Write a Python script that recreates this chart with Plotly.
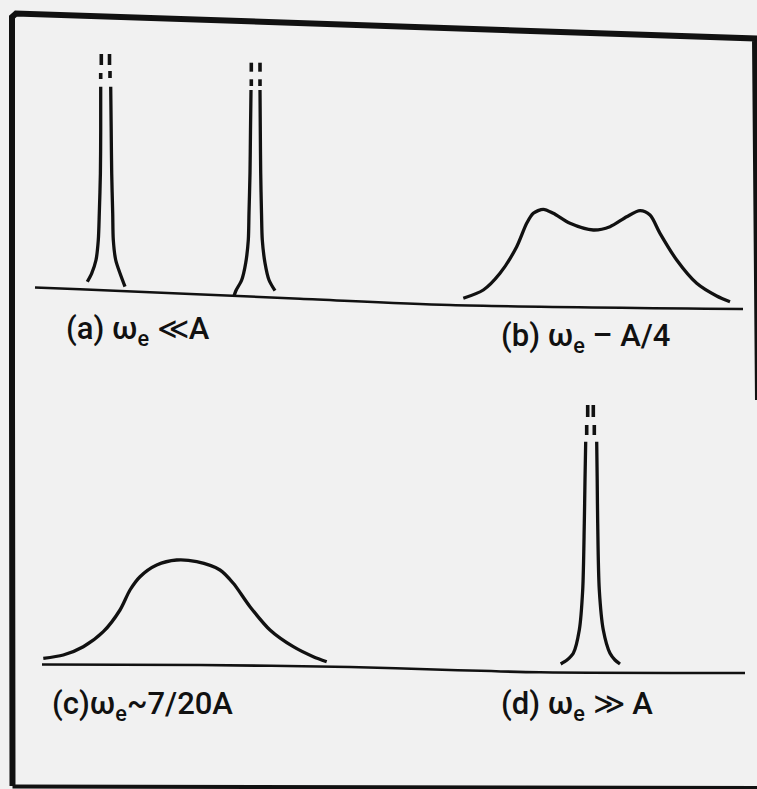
import plotly.graph_objects as go

# Canvas coordinates: x to the right, y downward (axis reversed)
W, H = 757, 789

# ---- panel (a): two narrow lines --------------------------------------
a1_left_x = [100.7, 100.7, 100.4, 99.3, 98.3, 96.0, 91.7, 87.3]
a1_left_y = [86.7, 130.0, 173.3, 213.3, 240.0, 260.0, 273.3, 281.7]
a1_right_x = [110.7, 111.2, 111.7, 112.7, 113.3, 115.7, 120.0, 125.0]
a1_right_y = [86.7, 130.0, 173.3, 213.3, 240.0, 260.0, 273.3, 286.7]

a2_left_x = [251.0, 250.5, 250.0, 249.0, 248.3, 245.7, 241.7, 236.0, 234.0]
a2_left_y = [90.0, 130.0, 173.0, 213.0, 240.0, 263.0, 280.0, 290.5, 296.0]
a2_right_x = [260.0, 260.3, 260.7, 261.5, 262.3, 265.0, 269.0, 275.0]
a2_right_y = [90.0, 130.0, 173.0, 213.0, 240.0, 263.0, 280.0, 290.7]

# broken-off tops (off-scale intensity)
a_dash_x = [101.3, 101.3, None, 100.7, 100.7, None, 109.5, 109.5, None, 110.0, 110.0, None,
            251.3, 251.3, None, 251.3, 251.3, None, 260.0, 260.0, None, 260.0, 260.0]
a_dash_y = [54.0, 65.0, None, 73.0, 79.0, None, 54.0, 65.0, None, 71.0, 78.0, None,
            62.7, 71.7, None, 79.3, 86.0, None, 62.7, 71.7, None, 79.3, 86.0]

# ---- panel (b): split doublet -----------------------------------------
b_x = [463.3, 483.3, 500.0, 516.7, 526.7, 533.3, 543.3, 553.3, 570.0, 593.3,
       610.0, 626.7, 640.0, 650.0, 660.0, 676.7, 696.7, 716.7, 730.0]
b_y = [298.3, 290.0, 273.3, 246.7, 223.3, 213.3, 209.3, 213.3, 223.3, 230.0,
       226.7, 216.7, 210.7, 215.0, 233.3, 260.0, 283.3, 296.0, 301.7]

# ---- panel (c): single broad band -------------------------------------
c_x = [43.3, 63.3, 83.3, 103.3, 120.0, 130.0, 140.0, 156.7, 176.7, 196.7,
       220.0, 233.3, 250.0, 270.0, 293.3, 313.3, 326.7]
c_y = [658.3, 655.0, 646.7, 631.7, 610.0, 590.0, 576.7, 565.0, 560.0, 561.7,
       570.0, 583.3, 606.7, 630.0, 646.7, 656.7, 661.7]

# ---- panel (d): motionally narrowed single line -----------------------
d_left_x = [585.7, 585.0, 584.3, 582.7, 579.3, 573.3, 567.0, 560.7]
d_left_y = [441.7, 480.0, 523.3, 590.0, 630.0, 653.3, 660.0, 664.0]
d_right_x = [596.7, 597.2, 597.7, 599.3, 603.3, 610.0, 615.0, 620.0]
d_right_y = [441.7, 480.0, 523.3, 590.0, 630.0, 653.3, 660.0, 664.0]
d_dash_x = [587.7, 587.7, None, 586.7, 586.7, None, 593.3, 593.3, None, 594.3, 594.3]
d_dash_y = [405.0, 417.0, None, 425.0, 435.0, None, 405.0, 417.0, None, 425.0, 435.0]

# ---- baselines ---------------------------------------------------------
base_top_x = [35.0, 80.0, 300.0, 450.0, 743.0]
base_top_y = [287.5, 289.3, 298.7, 305.0, 309.0]
base_bot_x = [42.0, 200.0, 350.0, 450.0, 540.0, 745.0]
base_bot_y = [664.5, 665.0, 667.0, 670.0, 672.3, 673.0]

# ---- frame -------------------------------------------------------------
frame_x = [758.0, 755.0, 16.0, 12.0, 12.0, 12.5]
frame_y = [400.0, 38.5, 13.5, 17.0, 400.0, 786.0]
frame_bot_x = [12.5, 757.0]
frame_bot_y = [786.5, 788.0]

# ---- labels ------------------------------------------------------------
labels = ["(a) ω<sub>e</sub> ≪A", "(b) ω<sub>e</sub> – A/4",
          "(c)ω<sub>e</sub>~7/20A", "(d) ω<sub>e</sub> ≫ A"]
label_x = [64, 499, 50, 499]
label_y = [330, 337, 705, 705]

INK = "#111111"
fig = go.Figure()


def curve(x, y, width=3.3, shape="spline"):
    fig.add_trace(go.Scatter(x=x, y=y, mode="lines", hoverinfo="skip",
                             line=dict(color=INK, width=width, shape=shape,
                                       smoothing=0.8)))


for xs, ys in [(a1_left_x, a1_left_y), (a1_right_x, a1_right_y),
               (a2_left_x, a2_left_y), (a2_right_x, a2_right_y),
               (b_x, b_y), (c_x, c_y),
               (d_left_x, d_left_y), (d_right_x, d_right_y)]:
    curve(xs, ys)

curve(a_dash_x, a_dash_y, width=3.6, shape="linear")
curve(d_dash_x, d_dash_y, width=3.6, shape="linear")
curve(base_top_x, base_top_y, width=2.6)
curve(base_bot_x, base_bot_y, width=2.6)
curve(frame_x, frame_y, width=6, shape="linear")
curve(frame_bot_x, frame_bot_y, width=4, shape="linear")

for t, x, y in zip(labels, label_x, label_y):
    fig.add_annotation(x=x, y=y, text=t, showarrow=False, xanchor="left",
                       yanchor="middle",
                       font=dict(family="Roboto", size=31, weight=500,
                                 color=INK))

fig.update_layout(
    width=W, height=H, margin=dict(l=0, r=0, t=0, b=0),
    paper_bgcolor="#f1f1f1", plot_bgcolor="#f1f1f1", showlegend=False,
    xaxis=dict(range=[0, W], visible=False, fixedrange=True),
    yaxis=dict(range=[H, 0], visible=False, fixedrange=True),
)

fig.write_html("out.html")
